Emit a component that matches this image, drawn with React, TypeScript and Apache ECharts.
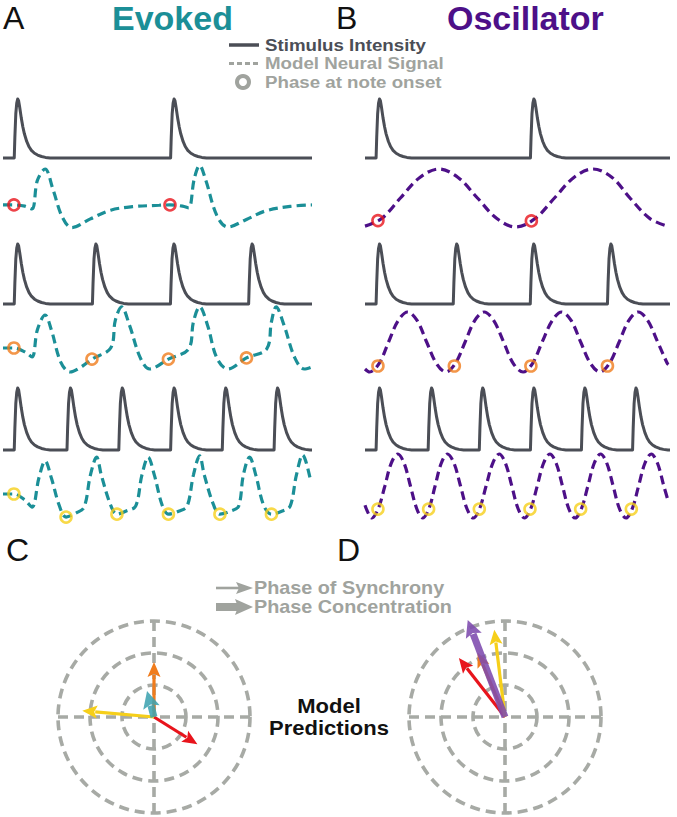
import React, { useEffect, useRef } from "react";
import * as echarts from "echarts";

// ---------- data ----------
const T_MAX = 1.98; // seconds shown per panel

// note onsets (s) for the three stimulus rates
const onsetsRow1 = [0.072, 1.074];
const onsetsRow2 = [0.072, 0.573, 1.073, 1.574];
const onsetsRow3 = [0.072, 0.41, 0.742, 1.074, 1.405, 1.737];

// stimulus intensity envelope after each onset: [dt (s), intensity]
const pulseShape = [
  [0, 0], [0.004, 0.35], [0.01, 0.75], [0.016, 0.93], [0.022, 1.0], [0.028, 0.97],
  [0.035, 0.86], [0.045, 0.68], [0.055, 0.53], [0.065, 0.41], [0.08, 0.28],
  [0.095, 0.19], [0.11, 0.13], [0.13, 0.08], [0.15, 0.05], [0.175, 0.025],
  [0.2, 0.01], [0.23, 0],
];

// evoked model neural signal: [t, value]
const evokedRow1 = [
  [0, -0.24], [0.07, -0.24], [0.14, -0.28], [0.186, -0.38], [0.22, 0.6], [0.27, 1.0],
  [0.32, 0.3], [0.38, -0.66], [0.44, -1.02], [0.56, -0.72], [0.69, -0.42], [0.83, -0.3],
  [1.0, -0.25], [1.07, -0.24], [1.15, -0.28], [1.19, -0.34], [1.225, 0.65], [1.26, 1.12],
  [1.3, 0.6], [1.37, -0.6], [1.44, -1.0], [1.56, -0.74], [1.68, -0.45], [1.84, -0.29],
  [1.98, -0.24],
];
const evokedRow2 = [
  [0, -0.2], [0.07, -0.2], [0.14, -0.33], [0.186, -0.5], [0.22, 0.4], [0.27, 0.9],
  [0.31, 0.4], [0.37, -0.67], [0.43, -1.0], [0.51, -0.8], [0.57, -0.57], [0.69, -0.2],
  [0.72, 0.73], [0.76, 1.17], [0.81, 0.57], [0.88, -0.53], [0.94, -0.9], [1.06, -0.57],
  [1.19, -0.23], [1.22, 0.67], [1.26, 1.17], [1.31, 0.57], [1.37, -0.53], [1.44, -0.9],
  [1.56, -0.53], [1.69, -0.23], [1.72, 0.67], [1.75, 1.17], [1.8, 0.57], [1.87, -0.53],
  [1.93, -0.9], [1.98, -0.83],
];
const evokedRow3 = [
  [0, -0.25], [0.07, -0.25], [0.14, -0.44], [0.186, -0.66], [0.23, 0.25], [0.27, 0.78],
  [0.31, 0.25], [0.36, -0.6], [0.404, -0.97], [0.47, -0.84], [0.52, -0.66], [0.56, 0.34],
  [0.6, 0.9], [0.63, 0.34], [0.69, -0.6], [0.73, -0.88], [0.79, -0.78], [0.85, -0.63],
  [0.89, 0.34], [0.93, 0.9], [0.97, 0.34], [1.02, -0.6], [1.06, -0.88], [1.13, -0.78],
  [1.18, -0.63], [1.22, 0.34], [1.26, 0.94], [1.29, 0.34], [1.35, -0.6], [1.39, -0.88],
  [1.46, -0.78], [1.51, -0.63], [1.54, 0.34], [1.58, 0.9], [1.62, 0.34], [1.67, -0.6],
  [1.72, -0.88], [1.79, -0.78], [1.84, -0.63], [1.88, 0.34], [1.92, 0.97], [1.97, 0.19],
];

// oscillator model neural signal: [t, value]
const oscRow1 = [
  [0, -0.97], [0.108, -0.71], [0.23, 0], [0.356, 0.71], [0.48, 1], [0.604, 0.71],
  [0.73, 0], [0.856, -0.71], [0.98, -1], [1.104, -0.71], [1.23, 0], [1.356, 0.71],
  [1.48, 1], [1.604, 0.71], [1.72, 0], [1.85, -0.71], [1.97, -0.98],
];
const oscRow2 = [
  [0, -0.9], [0.03, -1], [0.092, -0.71], [0.153, 0], [0.215, 0.71], [0.277, 1],
  [0.339, 0.71], [0.4, 0], [0.463, -0.71], [0.525, -1], [0.587, -0.71], [0.65, 0],
  [0.712, 0.71], [0.774, 1], [0.836, 0.71], [0.9, 0], [0.962, -0.71], [1.026, -1],
  [1.088, -0.71], [1.15, 0], [1.215, 0.71], [1.277, 1], [1.339, 0.71], [1.4, 0],
  [1.463, -0.71], [1.525, -1], [1.587, -0.71], [1.65, 0], [1.712, 0.71], [1.774, 1],
  [1.836, 0.71], [1.9, 0], [1.962, -0.71], [1.97, -0.75],
];
const oscRow3 = [
  [0, -0.6], [0.045, -1], [0.086, -0.71], [0.129, 0], [0.17, 0.71], [0.213, 1],
  [0.254, 0.71], [0.295, 0], [0.336, -0.71], [0.374, -1], [0.415, -0.71], [0.455, 0],
  [0.495, 0.71], [0.535, 1], [0.578, 0.71], [0.62, 0], [0.662, -0.71], [0.703, -1],
  [0.744, -0.71], [0.786, 0], [0.829, 0.71], [0.871, 1], [0.912, 0.71], [0.953, 0],
  [0.994, -0.71], [1.035, -1], [1.076, -0.71], [1.118, 0], [1.159, 0.71], [1.2, 1],
  [1.241, 0.71], [1.282, 0], [1.323, -0.71], [1.364, -1], [1.405, -0.71], [1.447, 0],
  [1.488, 0.71], [1.529, 1], [1.57, 0.71], [1.611, 0], [1.652, -0.71], [1.694, -1],
  [1.735, -0.71], [1.776, 0], [1.817, 0.71], [1.858, 1], [1.899, 0.71], [1.94, 0],
  [1.97, -0.5],
];

// phase at note onset markers: [t, value]
const evokedPhaseRow1 = [[0.07, -0.24], [1.07, -0.24]];
const evokedPhaseRow2 = [[0.07, -0.2], [0.57, -0.57], [1.06, -0.57], [1.56, -0.53]];
const evokedPhaseRow3 = [[0.07, -0.25], [0.404, -0.97], [0.73, -0.88], [1.06, -0.88], [1.39, -0.88], [1.72, -0.88]];
const oscPhaseRow1 = [[0.084, -0.78], [1.08, -0.79]];
const oscPhaseRow2 = [[0.084, -0.8], [0.58, -0.8], [1.077, -0.8], [1.574, -0.8]];
const oscPhaseRow3 = [[0.084, -0.72], [0.413, -0.72], [0.742, -0.72], [1.071, -0.72], [1.4, -0.72], [1.729, -0.72]];

// model predictions (polar): angle in degrees, length in ring units
const evokedArrowNames = ["slow", "fast", "medium", "concentration"];
const evokedArrowAngles = [328, 175, 90, 105];
const evokedArrowLengths = [1.6, 2.25, 1.72, 0.84];
const oscArrowNames = ["slow", "medium", "fast", "concentration"];
const oscArrowAngles = [128, 113, 97, 111];
const oscArrowLengths = [2.34, 2.19, 2.75, 3.25];

// ---------- styles ----------
const FONT = "'Liberation Sans', Arial, sans-serif";
const STIM = "#4b4e56";
const TEAL = "#1b8f97";
const PURPLE = "#4d1088";
const GRAY = "#a0a39e";
const RING = "#a7aaa5";
const RED = "#e8141c";
const ORANGE = "#f07c1c";
const YELLOW = "#f6cf1a";
const rowColors = [RED, ORANGE, YELLOW];
const evokedArrowColors = [RED, YELLOW, ORANGE, "#3fa3b0"];
const oscArrowColors = [RED, ORANGE, YELLOW, "#7d4aae"];
const evokedArrowThick = [false, false, false, true];
const oscArrowThick = [false, false, false, true];

function buildStim(onsets: number[]) {
  const pts: number[][] = [[0, 0]];
  onsets.forEach((o) => pulseShape.forEach(([dt, v]) => pts.push([o + dt, v])));
  pts.push([T_MAX, 0]);
  return pts;
}

const onsets = [onsetsRow1, onsetsRow2, onsetsRow3];
const signals = [
  [evokedRow1, evokedRow2, evokedRow3],
  [oscRow1, oscRow2, oscRow3],
];
const phases = [
  [evokedPhaseRow1, evokedPhaseRow2, evokedPhaseRow3],
  [oscPhaseRow1, oscPhaseRow2, oscPhaseRow3],
];

const panelLeft = [3, 365];
const panelWidth = [309, 305];
const stimTop = [99, 244, 388];
const stimH = [59, 60, 62];
const sigTop = [169, 312, 454];
const sigH = [58, 60, 64];

function arrowSeries(polarIndex: number, name: string, angle: number, len: number, color: string, thick: boolean) {
  return {
    type: "custom",
    name,
    coordinateSystem: "polar",
    polarIndex,
    silent: true,
    data: [[len, angle]],
    renderItem: (_p: any, api: any) => {
      const r = api.value(0);
      const a = api.value(1);
      const c = api.coord([0, a]);
      const t = api.coord([r, a]);
      const dx = t[0] - c[0];
      const dy = t[1] - c[1];
      const L = Math.hypot(dx, dy) || 1;
      const ux = dx / L, uy = dy / L;
      const px = -uy, py = ux;
      const hl = thick ? 17 : 15;
      const hw = thick ? 8.5 : 6.5;
      const bx = t[0] - ux * hl, by = t[1] - uy * hl;
      return {
        type: "group",
        children: [
          {
            type: "line",
            shape: { x1: c[0], y1: c[1], x2: bx + ux * 2, y2: by + uy * 2 },
            style: { stroke: color, lineWidth: thick ? 7 : 3.2, opacity: thick ? 0.88 : 1 },
          },
          {
            type: "polygon",
            shape: { points: [[t[0], t[1]], [bx + px * hw, by + py * hw], [bx + ux * 3, by + uy * 3], [bx - px * hw, by - py * hw]] },
            style: { fill: color, opacity: thick ? 0.88 : 1 },
          },
        ],
      };
    },
  };
}

function txt(text: string, x: number, y: number, size: number, color: string, weight = "bold", align = "left", sx = 1) {
  return {
    type: "text",
    x,
    y,
    scaleX: sx,
    silent: true,
    style: {
      text,
      fill: color,
      fontSize: size,
      fontWeight: weight,
      fontFamily: FONT,
      align,
      verticalAlign: "middle",
      textAlign: align,
      textVerticalAlign: "middle",
    },
  };
}

export default function App() {
  const ref = useRef<HTMLDivElement>(null);
  useEffect(() => {
    document.body.style.margin = "0";
    if (!ref.current) return;
    const chart = echarts.init(ref.current, undefined, { renderer: "svg" });

    const grids: any[] = [];
    const xAxes: any[] = [];
    const yAxes: any[] = [];
    const series: any[] = [];
    for (let p = 0; p < 2; p++) {
      for (let r = 0; r < 3; r++) {
        const gStim = grids.length;
        grids.push({ left: panelLeft[p], width: panelWidth[p], top: stimTop[r], height: stimH[r] });
        xAxes.push({ gridIndex: gStim, type: "value", min: 0, max: T_MAX, show: false });
        yAxes.push({ gridIndex: gStim, type: "value", min: 0, max: 1, show: false });
        const gSig = grids.length;
        grids.push({ left: panelLeft[p], width: panelWidth[p], top: sigTop[r], height: sigH[r] });
        xAxes.push({ gridIndex: gSig, type: "value", min: 0, max: T_MAX, show: false });
        yAxes.push({ gridIndex: gSig, type: "value", min: -1, max: 1, show: false });

        series.push({
          type: "line",
          name: "Stimulus Intensity",
          xAxisIndex: gStim,
          yAxisIndex: gStim,
          data: buildStim(onsets[r]),
          symbol: "none",
          clip: false,
          silent: true,
          lineStyle: { color: STIM, width: 3, join: "round" },
        });
        series.push({
          type: "line",
          name: "Model Neural Signal",
          xAxisIndex: gSig,
          yAxisIndex: gSig,
          data: signals[p][r],
          symbol: "none",
          smooth: 0.35,
          clip: false,
          silent: true,
          lineStyle: { color: p === 0 ? TEAL : PURPLE, width: 3.2, type: [9, 5] },
        });
        series.push({
          type: "scatter",
          name: "Phase at note onset",
          xAxisIndex: gSig,
          yAxisIndex: gSig,
          data: phases[p][r],
          symbol: "circle",
          symbolSize: 11,
          clip: false,
          silent: true,
          itemStyle: { color: "rgba(255,255,255,0)", borderColor: rowColors[r], borderWidth: 2.6 },
          z: 5,
        });
      }
    }

    const ringLine = { color: RING, width: 3.6, type: [10, 6] };
    const polar = [
      { center: [154, 717], radius: 96 },
      { center: [505, 717], radius: 96 },
    ];
    const angleAxis = [0, 1].map((i) => ({
      polarIndex: i,
      type: "value",
      min: 0,
      max: 360,
      interval: 90,
      startAngle: 0,
      clockwise: false,
      axisLine: { show: false },
      axisTick: { show: false },
      axisLabel: { show: false },
      splitLine: { show: true, lineStyle: ringLine },
    }));
    const radiusAxis = [0, 1].map((i) => ({
      polarIndex: i,
      type: "value",
      min: 0,
      max: 3,
      interval: 1,
      axisLine: { show: false },
      axisTick: { show: false },
      axisLabel: { show: false },
      splitLine: { show: true, lineStyle: ringLine },
    }));

    [0, 1, 2, 3].forEach((k) =>
      series.push(arrowSeries(0, evokedArrowNames[k], evokedArrowAngles[k], evokedArrowLengths[k], evokedArrowColors[k], evokedArrowThick[k]))
    );
    [0, 1, 2, 3].forEach((k) =>
      series.push(arrowSeries(1, oscArrowNames[k], oscArrowAngles[k], oscArrowLengths[k], oscArrowColors[k], oscArrowThick[k]))
    );

    const graphic: any[] = [
      txt("A", 3, 18, 32, "#111", "normal"),
      txt("Evoked", 112, 18, 34, TEAL),
      txt("B", 336, 18, 32, "#111", "normal"),
      txt("Oscillator", 447, 18, 34, PURPLE),
      // legend top
      { type: "line", silent: true, shape: { x1: 229, y1: 45, x2: 259, y2: 45 }, style: { stroke: STIM, lineWidth: 3.5 } },
      txt("Stimulus Intensity", 265, 45, 17, STIM, "bold", "left", 1.1),
      { type: "line", silent: true, shape: { x1: 229, y1: 63.5, x2: 259, y2: 63.5 }, style: { stroke: GRAY, lineWidth: 3, lineDash: [5, 3] } },
      txt("Model Neural Signal", 265, 63.5, 17, GRAY, "bold", "left", 1.1),
      { type: "circle", silent: true, shape: { cx: 243, cy: 82, r: 6 }, style: { fill: "none", stroke: GRAY, lineWidth: 4 } },
      txt("Phase at note onset", 265, 82, 17, GRAY, "bold", "left", 1.1),
      // bottom
      txt("C", 6, 550, 32, "#111", "normal"),
      txt("D", 337, 550, 32, "#111", "normal"),
      { type: "line", silent: true, shape: { x1: 216, y1: 588, x2: 239, y2: 588 }, style: { stroke: GRAY, lineWidth: 2.6 } },
      { type: "polygon", silent: true, shape: { points: [[253, 588], [236, 582], [239, 588], [236, 594]] }, style: { fill: GRAY } },
      { type: "line", silent: true, shape: { x1: 216, y1: 607, x2: 239, y2: 607 }, style: { stroke: GRAY, lineWidth: 8 } },
      { type: "polygon", silent: true, shape: { points: [[253, 607], [235, 599], [238, 607], [235, 615]] }, style: { fill: GRAY } },
      txt("Phase of Synchrony", 254, 588, 18, GRAY, "bold", "left", 1.1),
      txt("Phase Concentration", 254, 607, 18, GRAY, "bold", "left", 1.1),
      txt("Model", 329, 706, 20, "#111", "bold", "center", 1.1),
      txt("Predictions", 329, 728, 20, "#111", "bold", "center", 1.1),
    ];

    chart.setOption({
      animation: false,
      backgroundColor: "#ffffff",
      grid: grids,
      xAxis: xAxes,
      yAxis: yAxes,
      polar,
      angleAxis,
      radiusAxis,
      series,
      graphic,
    });
    return () => chart.dispose();
  }, []);
  return <div ref={ref} style={{ width: 677, height: 817 }} />;
}
